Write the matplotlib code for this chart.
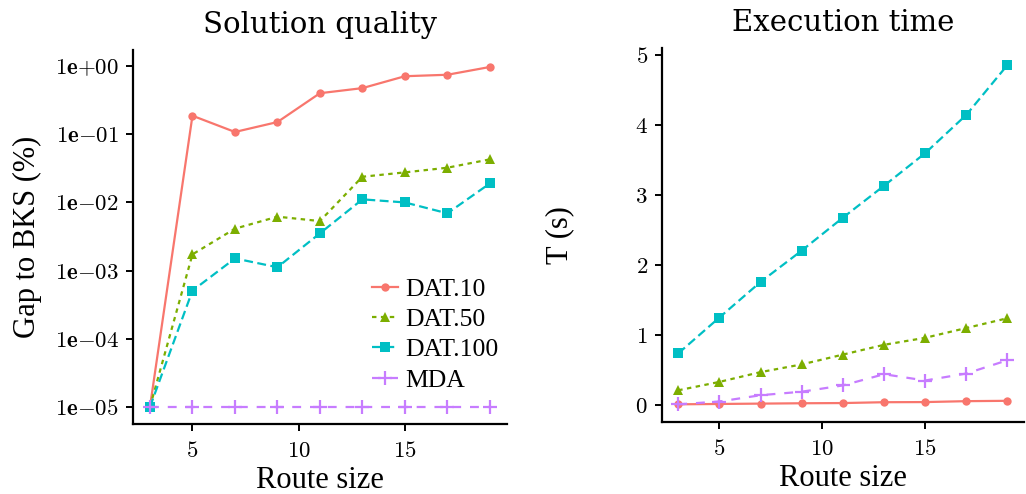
#!/usr/bin/env python3

import matplotlib
matplotlib.use('Agg')
import matplotlib.pyplot as plt
from matplotlib.ticker import FixedLocator, FixedFormatter

route = [3, 5, 7, 9, 11, 13, 15, 17, 19]

gap_dat10 = [1e-5, 0.187, 0.108, 0.151, 0.40, 0.475, 0.71, 0.746, 0.97]
gap_dat50 = [1e-5, 0.00173, 0.00412, 0.00618, 0.00533, 0.0238, 0.0276, 0.0323, 0.0428]
gap_dat100 = [1e-5, 0.000508, 0.00151, 0.00112, 0.00352, 0.0111, 0.0100, 0.00692, 0.0190]
gap_mda = [1e-5] * 9

t_dat10 = [0.01, 0.015, 0.02, 0.025, 0.028, 0.04, 0.042, 0.055, 0.06]
t_dat50 = [0.21, 0.33, 0.47, 0.58, 0.72, 0.86, 0.96, 1.10, 1.24]
t_dat100 = [0.737, 1.25, 1.758, 2.206, 2.676, 3.132, 3.598, 4.145, 4.858]
t_mda = [0.01, 0.05, 0.14, 0.19, 0.28, 0.44, 0.35, 0.45, 0.64]

labels = ['DAT.10', 'DAT.50', 'DAT.100', 'MDA']
colors = ['#F8766D', '#7CAE00', '#00BFC4', '#C77CFF']
markers = ['o', '^', 's', '+']
msizes = [6, 7, 7, 10]
dashes = [None, (2, 2), (4, 2), (4, 4)]

log_ticks = [1e0, 1e-1, 1e-2, 1e-3, 1e-4, 1e-5]
log_labels = ['1e{+}00', '1e{-}01', '1e{-}02', '1e{-}03', '1e{-}04', '1e{-}05']
x_ticks = [5, 10, 15]
t_ticks = [0, 1, 2, 3, 4, 5]

plt.rcParams['font.family'] = ['Liberation Serif', 'DejaVu Serif']
plt.rcParams['mathtext.fontset'] = 'cm'


def math(s):
    return '$\\mathbf{' + str(s) + '}$'


def draw(ax, series):
    for i, y in enumerate(series):
        kw = dict(color=colors[i], marker=markers[i], markersize=msizes[i],
                  linewidth=1.6, label=labels[i],
                  markeredgewidth=1.6 if markers[i] == '+' else 0)
        line, = ax.plot(route, y, **kw)
        if dashes[i] is not None:
            line.set_dashes(dashes[i])


def style(ax):
    for s in ['top', 'right']:
        ax.spines[s].set_visible(False)
    for s in ['left', 'bottom']:
        ax.spines[s].set_linewidth(1.6)
    ax.tick_params(direction='out', length=5, width=1.4, labelsize=16.5,
                   colors='black', pad=5)
    ax.tick_params(axis='x', pad=7)
    ax.set_xlim(2.2, 19.8)
    ax.xaxis.set_major_locator(FixedLocator(x_ticks))
    ax.xaxis.set_major_formatter(FixedFormatter([math(v) for v in x_ticks]))
    ax.set_xlabel('Route size', fontsize=22, labelpad=3)
    ax.yaxis.set_label_coords(-0.243, 0.5)


fig = plt.figure(figsize=(10.26, 4.94), dpi=100)

ax1 = fig.add_axes([0.1296, 0.1417, 0.3644, 0.7571])
draw(ax1, [gap_dat10, gap_dat50, gap_dat100, gap_mda])
ax1.set_yscale('log')
ax1.set_ylim(10 ** -5.25, 10 ** 0.236)
ax1.yaxis.set_major_locator(FixedLocator(log_ticks))
ax1.yaxis.set_major_formatter(FixedFormatter([math(v) for v in log_labels]))
ax1.yaxis.set_minor_locator(FixedLocator([]))
ax1.set_ylabel('Gap to BKS (%)', fontsize=22)
style(ax1)
ax1.set_title('Solution quality', fontsize=21, pad=12, family='DejaVu Serif')
ax1.legend(loc='upper left', bbox_to_anchor=(0.639, 0.39), frameon=False,
           fontsize=18.5, handlelength=1.0, handletextpad=0.3, labelspacing=0.28,
           borderaxespad=0, borderpad=0)

ax2 = fig.add_axes([0.645, 0.1457, 0.353, 0.7571])
draw(ax2, [t_dat10, t_dat50, t_dat100, t_mda])
ax2.set_ylim(-0.243, 5.1)
ax2.yaxis.set_major_locator(FixedLocator(t_ticks))
ax2.yaxis.set_major_formatter(FixedFormatter([math(v) for v in t_ticks]))
ax2.set_ylabel('T (s)', fontsize=22)
style(ax2)
ax2.set_title('Execution time', fontsize=21, pad=12, family='DejaVu Serif')

plt.savefig('out.png', dpi=100)
